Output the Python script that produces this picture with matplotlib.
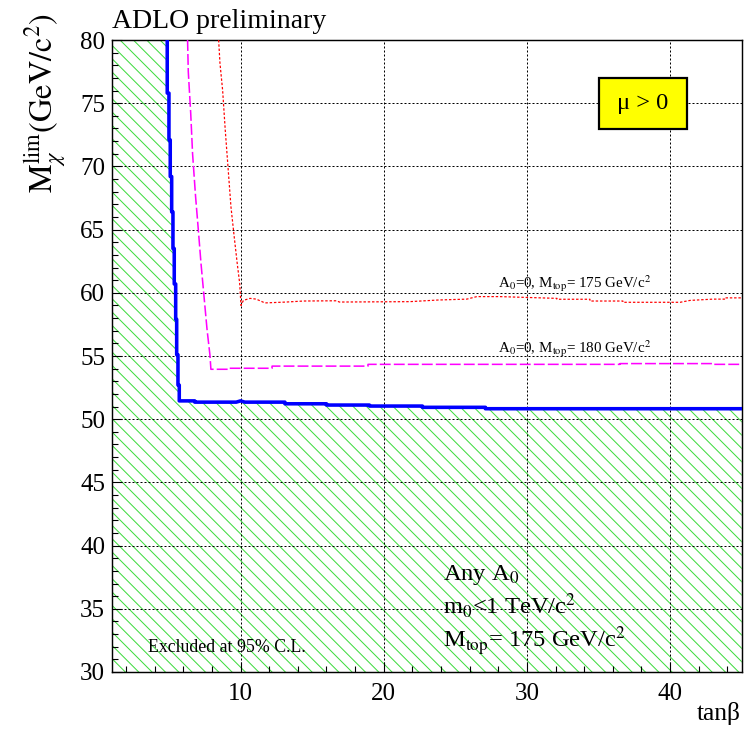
import matplotlib
matplotlib.use("Agg")
import matplotlib.pyplot as plt
from matplotlib.patches import Rectangle
from matplotlib.ticker import MultipleLocator

plt.rcParams['font.family'] = ['Liberation Serif', 'DejaVu Serif']
plt.rcParams['mathtext.fontset'] = 'stix'
plt.rcParams['hatch.linewidth'] = 0.9

# limit curves (tan beta, M_chi lim in GeV/c^2)
any_a0_x = [4.88, 4.88, 5.0, 5.0, 5.09, 5.09, 5.19, 5.19, 5.28, 5.28, 5.37, 5.37,
            5.47, 5.47, 5.54, 5.54, 5.63, 5.63, 5.72, 5.72, 6.8, 6.8, 9.7, 10.0,
            10.3, 13.1, 13.1, 16.0, 16.0, 19.0, 19.0, 22.7, 22.7, 27.1, 27.1, 45.0]
any_a0_y = [80.0, 75.8, 75.8, 72.1, 72.1, 69.2, 69.2, 66.4, 66.4, 63.5, 63.5, 60.7,
            60.7, 57.9, 57.9, 55.1, 55.1, 52.7, 52.7, 51.45, 51.45, 51.35, 51.35, 51.45,
            51.35, 51.35, 51.22, 51.22, 51.12, 51.12, 51.04, 51.04, 50.94, 50.94, 50.83, 50.83]

mt180_x = [6.3, 6.35, 6.52, 6.65, 6.86, 7.05, 7.24, 7.45, 7.66, 7.86, 7.93, 9.1, 9.1,
           12.2, 12.2, 18.9, 18.9, 28.1, 36.5, 36.5, 43.0, 43.0, 45.0]
mt180_y = [80.0, 77.5, 74.2, 71.0, 67.6, 65.0, 62.3, 59.7, 57.1, 55.1, 53.95, 53.95, 54.03,
           54.03, 54.2, 54.2, 54.34, 54.34, 54.34, 54.4, 54.4, 54.34, 54.34]

mt175_x = [8.47, 8.56, 8.75, 8.93, 9.14, 9.33, 9.56, 9.77, 9.94, 10.03, 10.2, 10.66, 11.1,
           11.7, 13.2, 14.4, 16.7, 16.9, 21.8, 23.8, 25.8, 26.5, 28.1, 32.1, 32.1, 34.4,
           34.4, 36.7, 36.7, 40.7, 41.4, 43.0, 43.8, 43.8, 45.0]
mt175_y = [80.0, 78.2, 76.0, 72.9, 69.7, 66.8, 64.4, 62.3, 60.75, 59.0, 59.4, 59.56, 59.5,
           59.2, 59.27, 59.35, 59.37, 59.27, 59.3, 59.43, 59.5, 59.7, 59.7, 59.56, 59.49, 59.49,
           59.35, 59.35, 59.25, 59.25, 59.4, 59.5, 59.5, 59.6, 59.6]

x_range = (1, 45)
y_range = (30, 80)

fig = plt.figure(figsize=(9.35, 9.1125), dpi=80)
ax = fig.add_axes([0.1493, 0.0782, 0.8423, 0.8669])

# excluded region (hatched)
hx = [x_range[0], x_range[0]] + any_a0_x + [x_range[1]]
hy = [y_range[0], y_range[1]] + any_a0_y + [y_range[0]]
ax.fill(hx, hy, facecolor='none', edgecolor='#3ddc3d', hatch='\\\\', linewidth=0, zorder=1)

ax.plot(mt175_x, mt175_y, color='red', lw=1.1, ls=(0, (2, 1.5)), zorder=3)
ax.plot(mt180_x, mt180_y, color='magenta', lw=1.4, ls=(0, (7, 2)), zorder=3)
ax.plot(any_a0_x, any_a0_y, color='blue', lw=3.2, zorder=4)

ax.set_xlim(*x_range)
ax.set_ylim(*y_range)
ax.xaxis.set_major_locator(MultipleLocator(10))
ax.xaxis.set_minor_locator(MultipleLocator(2))
ax.yaxis.set_major_locator(MultipleLocator(5))
ax.yaxis.set_minor_locator(MultipleLocator(1))
ax.tick_params(which='both', direction='in', top=False, right=False, labelsize=22.5,
               width=1, color='black')
ax.tick_params(which='major', length=9)
ax.tick_params(which='minor', length=5)
ax.tick_params(axis='x', pad=10)
ax.tick_params(axis='y', pad=6)
ax.grid(True, which='major', color='black', lw=0.9, ls=(0, (2, 2)))
for s in ax.spines.values():
    s.set_linewidth(1.3)

fig.text(0.150, 0.962, 'ADLO preliminary', fontsize=25, ha='left', va='baseline')
fig.text(0.062, 0.982, r'$\mathrm{M}_{\chi}^{\mathrm{lim}}\mathrm{(GeV/c^{2})}$',
         rotation=90, ha='center', va='top', fontsize=29)
fig.text(0.99, 0.012, 'tanβ', ha='right', va='baseline', fontsize=23)

# mu > 0 box
ax.add_patch(Rectangle((0.7735, 0.859), 0.1397, 0.081, transform=ax.transAxes,
                       facecolor='yellow', edgecolor='black', lw=2, zorder=5))
ax.text(0.8433, 0.8995, 'μ > 0', transform=ax.transAxes, ha='center',
        va='center', fontsize=22, zorder=6)

ax.text(28.0, 60.38, r'A$_0$=0, M$_{\rm top}$= 175 GeV/c$^2$', fontsize=13.5,
        va='baseline', zorder=5)
ax.text(28.0, 55.26, r'A$_0$=0, M$_{\rm top}$= 180 GeV/c$^2$', fontsize=13.5,
        va='baseline', zorder=5)

ax.text(24.14, 37.3, r'Any A$_0$', fontsize=22, va='baseline', zorder=5)
ax.text(24.14, 34.59, r'm$_0$<1 TeV/c$^2$', fontsize=22, va='baseline', zorder=5)
ax.text(24.14, 31.9, r'M$_{\rm top}$= 175 GeV/c$^2$', fontsize=22, va='baseline', zorder=5)
ax.text(3.54, 31.58, 'Excluded at 95% C.L.', fontsize=16, va='baseline', zorder=5)

fig.savefig('out.png', dpi=80)
